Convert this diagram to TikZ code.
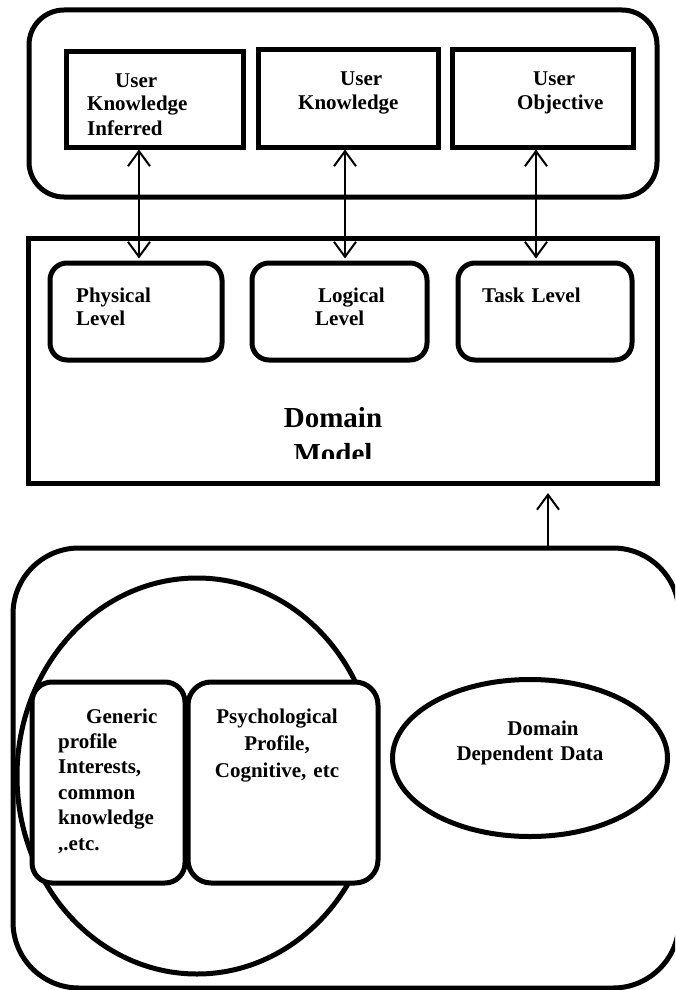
\documentclass[tikz,border=0pt]{standalone}
\usepackage{fontspec}
\setmainfont{Liberation Serif}
\usetikzlibrary{arrows.meta,shapes.geometric}
\begin{document}
\begin{tikzpicture}[x=1pt,y=-1pt,
  sqbox/.style={draw, line width=5pt, rectangle, inner sep=0pt, fill=white},
  rbox/.style={sqbox, rounded corners=#1},
  oval/.style={draw, line width=5pt, ellipse, inner sep=0pt},
  lbl/.style={inner sep=0pt, anchor=base west, align=left, text width=220pt, font=\fontsize{21}{24}\selectfont\bfseries},
  clbl/.style={inner sep=0pt, anchor=base, align=center, text width=220pt, font=\fontsize{21}{27}\selectfont\bfseries},
  dbl/.style={line width=2pt, {Straight Barb[length=15pt,width=22pt]}-{Straight Barb[length=15pt,width=22pt]}},
  upar/.style={line width=2pt, -{Straight Barb[length=15pt,width=22pt]}},
]
\fill[white] (0,0) rectangle (675,990);
\useasboundingbox (0,0) rectangle (675,990);
\clip (0,0) rectangle (675,990);

% upper group
\node[rbox=35pt, minimum width=628pt, minimum height=187pt] (top) at (343,103.5) {};
\node[sqbox, minimum width=177pt, minimum height=95pt] (uki) at (154.5,99.5) {};
\node[sqbox, minimum width=180pt, minimum height=97pt] (uk) at (348,98.5) {};
\node[sqbox, minimum width=181pt, minimum height=97pt] (uo) at (542.5,98.5) {};
\node[lbl] (ukit) at (87,87) {\hspace*{28pt}User\\Knowledge\\Inferred};
\node[lbl] (ukt) at (298,85) {\hspace*{42pt}User\\Knowledge};
\node[lbl] (uot) at (517,85) {\hspace*{16pt}User\\Objective};

% domain model
\node[sqbox, minimum width=629pt, minimum height=245pt] (dm) at (342.5,360.5) {};
\node[rbox=17pt, minimum width=172pt, minimum height=97pt] (phys) at (136,311.5) {};
\node[rbox=17pt, minimum width=175pt, minimum height=97pt] (logi) at (339.5,311.5) {};
\node[rbox=17pt, minimum width=174pt, minimum height=97pt] (task) at (545,311.5) {};
\node[lbl, font=\fontsize{21}{23}\selectfont\bfseries] (physt) at (76,302) {Physical\\Level};
\node[lbl, font=\fontsize{21}{23}\selectfont\bfseries] (logit) at (315,302) {\hspace*{3pt}Logical\\Level};
\node[lbl] (taskt) at (482,302) {Task Level};
\begin{scope}
\clip (0,0) rectangle (675,458);
\node[clbl, font=\fontsize{29}{36}\selectfont\bfseries] (dmt) at (333,427) {Domain\\Model};
\end{scope}

% arrows
\coordinate (a1) at (139,0);
\coordinate (a2) at (345,0);
\coordinate (a3) at (536,0);
\coordinate (a4) at (548,0);
\draw[dbl, shorten >=2pt] (uki.south -| a1) -- (phys.north -| a1);
\draw[dbl, shorten >=2pt] (uk.south -| a2) -- (logi.north -| a2);
\draw[dbl, shorten >=2pt] (uo.south -| a3) -- (task.north -| a3);

% lower group
\node[rbox=66pt, fill=none, minimum width=666pt, minimum height=440pt] (bot) at (346,768) {};
\draw[upar, shorten >=7.5pt] (bot.north -| a4) -- (dm.south -| a4);
\node[oval, minimum width=360pt, minimum height=396pt] (big) at (197,776) {};
\node[rbox=20pt, minimum width=153pt, minimum height=201pt] (gen) at (108.5,782.5) {};
\node[rbox=23pt, minimum width=190pt, minimum height=201pt] (psy) at (283,782.5) {};
\node[lbl, font=\fontsize{21}{25.4}\selectfont\bfseries] (gent) at (58,723) {\hspace*{28pt}Generic\\profile\\Interests,\\common\\knowledge\\,.etc.};
\node[clbl] (psyt) at (277,723) {Psychological\\Profile,\\Cognitive, etc};
\node[oval, minimum width=275pt, minimum height=157pt] (ddd) at (530,758) {};
\node[clbl, font=\fontsize{21}{25}\selectfont\bfseries] (dddt) at (530,735) {\hspace*{26pt}Domain\\Dependent Data};
\end{tikzpicture}
\end{document}
